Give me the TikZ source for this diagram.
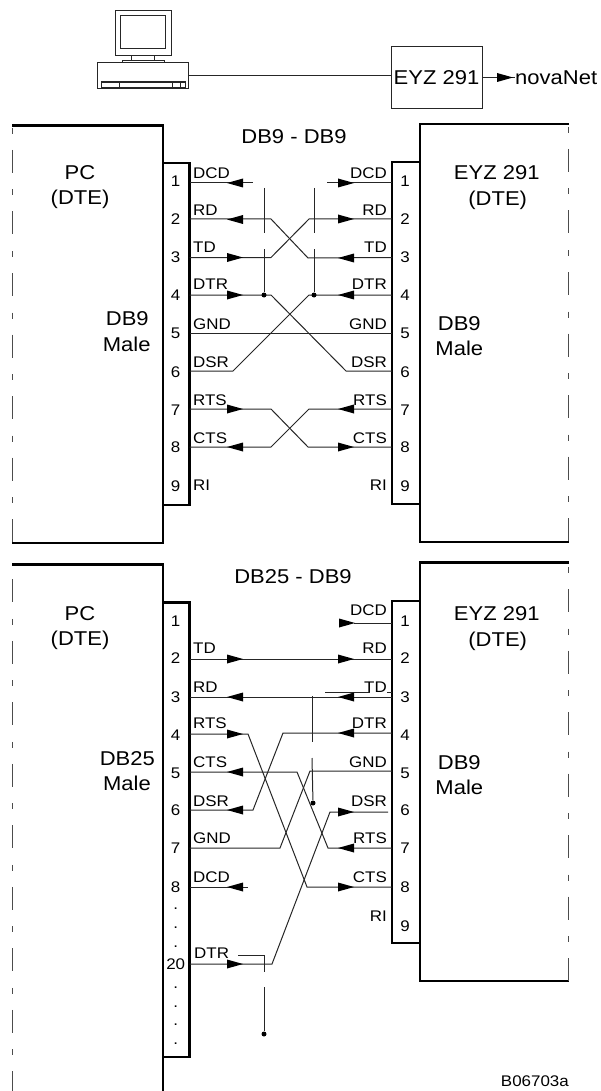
\documentclass[tikz,border=0pt]{standalone}
\usepackage{fontspec}
\setmainfont[FakeStretch=1.1]{Liberation Sans}
\newcommand{\tipR}[2]{\fill (#1,#2) ++(0,-4.5) -- ++(16,4.5) -- ++(-16,4.5) -- cycle;}
\newcommand{\tipL}[2]{\fill (#1,#2) ++(16,-4.5) -- ++(-16,4.5) -- ++(16,4.5) -- cycle;}
\tikzset{
    wire/.style = {line width=1pt, black!85},
    wall/.style = {line width=2.4pt, line join=miter},
    cut/.style = {line width=0.9pt, black!70, dash pattern=on 23pt off 16.5pt on 6pt off 16pt},
    big/.style = {font=\fontsize{20}{24}\selectfont, inner sep=0pt, anchor=base},
    pin/.style = {font=\fontsize{15.4}{18}\selectfont, inner sep=0pt},
    sigl/.style = {font=\fontsize{15.4}{18}\selectfont, inner sep=0pt, anchor=base west},
    sigr/.style = {font=\fontsize{15.4}{18}\selectfont, inner sep=0pt, anchor=base east},
    dot/.style = {circle, fill=black, inner sep=0pt, minimum size=5pt}
}
\begin{document}
\begin{tikzpicture}[x=1pt, y=-1pt]
    \useasboundingbox (0,0) rectangle (600,1091);
    \draw[wire] (115,11) rectangle (171,56);
    \draw[wire] (120.7,16) rectangle (165.3,49);
    \draw[wire] (131.7,56) rectangle (154.3,60.7);
    \draw[wire] (122.3,60.7) rectangle (164,62.5);
    \node[draw, wire, inner sep=0pt, minimum width=90.6pt, minimum height=25.6pt] (pc) at (143,75.5) {};
    \draw[wire] (101.7,81.3) rectangle (185,87.3);
    \draw[wire] (101.7,83) -- (185,83);
    \draw[wire] (119.3,81.3) -- (119.3,87.3) (172.7,81.3) -- (172.7,87.3) (180,81.3) -- (180,87.3);
    \node[draw, wire, text=black, big, anchor=center, minimum width=91pt, minimum height=61.6pt] (eyz) at (436.5,77.5) {EYZ 291};
    \node[big, anchor=west] (nova) at (515,77.5) {novaNet};
    \draw[wire] (pc.east |- 0,76) -- (eyz.west |- 0,76);
    \draw[wire] (eyz.east) -- (nova.west);
    \tipR{497}{77.5}

    \draw[wall] (12,125.5) -| (162.7,543) -- (12,543);
    \draw[wall] (162.7,163) rectangle (189.5,505);
    \draw[wall] (569,124.3) -| (420,542) -- (569,542);
    \draw[wall] (392,162.3) rectangle (420,504);
    \draw[cut, dash phase=37.5pt] (12.7,126) -- (12.7,543);
    \draw[cut, dash phase=36.8pt] (568.5,124.3) -- (568.5,542);
    \node[big] (title) at (294,144) {DB9 - DB9};
    \node[big] (pcA) at (80,180) {PC};
    \node[big] (dteAL) at (80,205) {(DTE)};
    \node[big] (eyzA) at (496.7,180) {EYZ 291};
    \node[big] (dteAR) at (497.7,206) {(DTE)};
    \node[big] (dbAL) at (127.3,325.7) {DB9};
    \node[big] (maleAL) at (126.7,351) {Male};
    \node[big] (dbAR) at (459.3,330) {DB9};
    \node[big] (maleAR) at (459.3,355) {Male};
    \foreach \n/\y in {1/183,2/219,3/257.5,4/295,5/333,6/371,7/409,8/447}{
        \coordinate (AL\n) at (189.5,\y);
        \coordinate (AR\n) at (392,\y);
    }
    \foreach \n/\y in {1/181,2/219,3/257,4/295,5/333,6/372,7/410,8/447,9/486}{
        \node[pin] (numAL\n) at (175.7,\y) {\n};
        \node[pin] (numAR\n) at (405,\y) {\n};
    }
    \foreach \s/\y in {DCD/179,RD/216,TD/252,DTR/289,GND/329,DSR/367,RTS/405,CTS/443,RI/490}{
        \node[sigl] (l\s) at (193,\y) {\s};
        \node[sigr] (r\s) at (387,\y) {\s};
    }
    \begin{scope}[wire]
        \draw (AL1) -- (253,183);
        \draw (AR1) -- (327,183);
        \draw (AL2) -- (271,219) -- (308,258) -- (AR3);
        \draw (AL3) -- (271,257.5) -- (309,219) -- (AR2);
        \draw (AL4) -- (271,295) -- (346,371) -- (AR6);
        \draw (AL6) -- (233,371) -- (309,295) -- (AR4);
        \draw (AL5) -- (AR5);
        \draw (AL7) -- (271,409) -- (308,447) -- (AR8);
        \draw (AL8) -- (271,447) -- (309,409) -- (AR7);
        \node[dot] (jointAL) at (264,295) {};
        \node[dot] (jointAR) at (314,295) {};
        \draw (264,188) -- (264,233);
        \draw (264,249) -- (jointAL);
        \draw (314,188) -- (314,233);
        \draw (314,249) -- (jointAR);
    \end{scope}
    \tipL{227}{183} \tipL{227}{219.5} \tipR{227}{257.5} \tipR{227}{295} \tipR{227}{409} \tipL{227}{447}
    \tipR{338}{183} \tipR{338}{219} \tipL{338}{258} \tipL{338}{295} \tipL{338}{409} \tipR{338}{447}

    \draw[wall] (12,564.3) -| (162.7,1091);
    \draw[wall] (162.7,602.3) rectangle (189.5,1057);
    \draw[wall] (569,562.3) -| (420,981) -- (569,981);
    \draw[wall] (392,600.7) rectangle (420,943);
    \draw[cut, dash phase=46.5pt] (12.7,564.3) -- (12.7,1091);
    \draw[cut, dash phase=34.8pt] (568.5,562.3) -- (568.5,981);
    \node[big] (titleB) at (293,583) {DB25 - DB9};
    \node[big] (pcB) at (80,620) {PC};
    \node[big] (dteBL) at (80,645) {(DTE)};
    \node[big] (eyzB) at (496.7,620) {EYZ 291};
    \node[big] (dteBR) at (497.7,646.5) {(DTE)};
    \node[big] (dbBL) at (127.3,765) {DB25};
    \node[big] (maleBL) at (127,790) {Male};
    \node[big] (dbBR) at (459.3,769) {DB9};
    \node[big] (maleBR) at (459.3,794) {Male};
    \foreach \n/\y in {2/659,3/697,4/734,5/772,6/810,7/848,8/887,20/964}{
        \coordinate (BL\n) at (189.5,\y);
    }
    \foreach \n/\y in {1/623,2/659,3/697,4/733,5/771,6/812,7/848,8/887}{
        \coordinate (BR\n) at (392,\y);
    }
    \foreach \n/\y in {1/621,2/658,3/697,4/735,5/773,6/810,7/848,8/887,20/964}{
        \node[pin] (numBL\n) at (175.7,\y) {\n};
    }
    \foreach \n/\y in {1/621,2/658,3/697,4/735,5/773,6/810,7/848,8/887,9/925.7}{
        \node[pin] (numBR\n) at (405,\y) {\n};
    }
    \foreach \k/\y in {a/909,b/928,c/947,d/988,e/1007,f/1025,g/1044}{
        \node[pin] (gap\k) at (175.7,\y) {.};
    }
    \foreach \s/\y in {TD/653,RD/692,RTS/728,CTS/767,DSR/806,GND/843,DCD/882}{
        \node[sigl] (lb\s) at (193,\y) {\s};
    }
    \node[sigl] (lbDTR) at (194,958) {DTR};
    \foreach \s/\y in {DCD/615,RD/653,TD/692,DTR/728,GND/767,DSR/806,RTS/843,CTS/882,RI/921}{
        \node[sigr] (rb\s) at (387,\y) {\s};
    }
    \begin{scope}[wire]
        \draw (BR1) -- (354,623);
        \draw (BL2) -- (BR2);
        \draw (BL3) -- (BR3);
        \draw (325,692) -- (370,692);
        \draw (387,692) -- (392,692);
        \draw (BL4) -- (248,734) -- (307,887) -- (BR8);
        \draw (BR4) -- (283,733) -- (253,810) -- (BL6);
        \draw (BL5) -- (297,772) -- (328,848) -- (BR7);
        \draw (BR5) -- (310,771) -- (280,848) -- (BL7);
        \draw (388,812) -- (330,812) -- (272,964) -- (BL20);
        \draw (BL8) -- (248,887);
        \node[dot] (jointBR) at (313,803) {};
        \node[dot] (jointBL) at (264,1034) {};
        \draw (312,696) -- (312,742);
        \draw (312,758) -- (jointBR);
        \draw (238,955.7) -- (264,955.7) -- (264,972);
        \draw (264,987) -- (jointBL);
    \end{scope}
    \tipR{227}{659} \tipL{227}{697} \tipR{227}{734} \tipL{227}{772} \tipL{227}{810} \tipL{227}{887} \tipR{227}{964}
    \tipR{339}{623} \tipR{338}{659} \tipL{338}{697} \tipL{338}{733} \tipR{338}{812} \tipL{338}{848} \tipR{338}{887}
    \node[pin, anchor=base east] (code) at (569,1086) {B06703a};
\end{tikzpicture}
\end{document}
